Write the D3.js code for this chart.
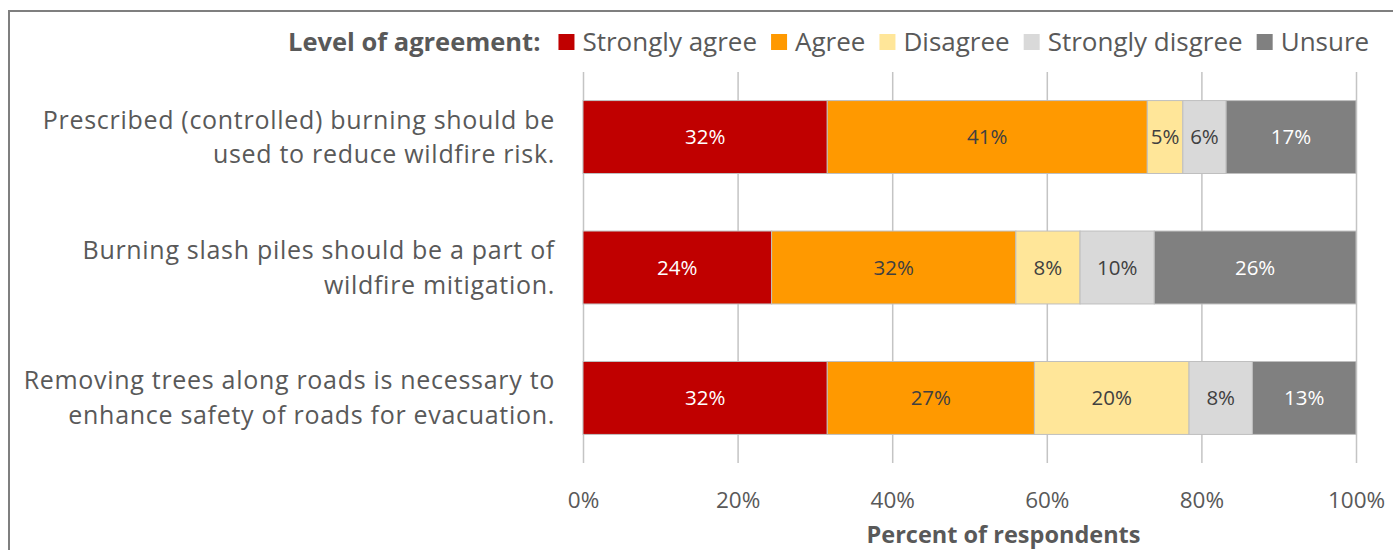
<!DOCTYPE html>
<html>
<head>
<meta charset="utf-8">
<script src="https://cdn.jsdelivr.net/npm/d3@7"></script>
<style>
  body { margin: 0; background: #fff; }
  svg { display: block; }
  text { font-family: "Open Sans", "Noto Sans", sans-serif; }
</style>
</head>
<body>
<svg id="chart" width="1393" height="550"></svg>
<script>
// Survey statements (each split over two lines)
const categories = [
  "Prescribed (controlled) burning should be used to reduce wildfire risk.",
  "Burning slash piles should be a part of wildfire mitigation.",
  "Removing trees along roads is necessary to enhance safety of roads for evacuation."
];
const categoryLines = [
  ["Prescribed (controlled) burning should be", "used to reduce wildfire risk."],
  ["Burning slash piles should be a part of", "wildfire mitigation."],
  ["Removing trees along roads is necessary to", "enhance safety of roads for evacuation."]
];

// Response levels, in stacking order
const seriesNames = ["Strongly agree", "Agree", "Disagree", "Strongly disgree", "Unsure"];

// Percent of respondents per statement
const stronglyAgree    = [31.6, 24.4, 31.6];
const agree            = [41.4, 31.6, 26.8];
const disagree         = [4.6, 8.3, 20.0];
const stronglyDisagree = [5.6, 9.6, 8.2];
const unsure           = [16.8, 26.1, 13.4];

const tickValues = [0, 20, 40, 60, 80, 100];

const seriesColors = ["#C00000", "#FF9900", "#FFE699", "#D9D9D9", "#808080"];
const labelColors  = ["#FFFFFF", "#404040", "#404040", "#404040", "#FFFFFF"];

const seriesValues = [stronglyAgree, agree, disagree, stronglyDisagree, unsure];
const rows = categories.map((c, i) => {
  const r = { category: c };
  seriesNames.forEach((s, k) => { r[s] = seriesValues[k][i]; });
  return r;
});

const svg = d3.select("#chart");
const textColor = "#595959";

// Chart frame
svg.append("rect")
  .attr("x", 9).attr("y", 11)
  .attr("width", 1500).attr("height", 700)
  .attr("fill", "none")
  .attr("stroke", "#7F7F7F")
  .attr("stroke-width", 2);

const plotTop = 72, plotBottom = 463;
const x = d3.scaleLinear().domain([0, 100]).range([583, 1356]);
const y = d3.scaleBand().domain(categories).range([plotTop, plotBottom])
  .paddingInner(0.441).paddingOuter(0.219);

// Gridlines and tick labels
const axis = svg.append("g")
  .attr("transform", `translate(0,${plotBottom})`)
  .call(d3.axisBottom(x)
    .tickValues(tickValues)
    .tickSize(-(plotBottom - plotTop))
    .tickPadding(29)
    .tickFormat(d => d + "%"));
axis.select(".domain").remove();
axis.selectAll(".tick line").attr("stroke", "#C4C4C4").attr("stroke-width", 1.5);
axis.selectAll(".tick text")
  .attr("fill", textColor)
  .style("font-size", "22.5px");

// Stacked bars
const stack = d3.stack().keys(seriesNames)(rows);

const layers = svg.append("g").selectAll("g")
  .data(stack)
  .join("g")
  .attr("fill", (d, i) => seriesColors[i]);

layers.selectAll("rect")
  .data(d => d)
  .join("rect")
  .attr("x", d => x(d[0]))
  .attr("y", d => y(d.data.category))
  .attr("width", d => x(d[1]) - x(d[0]))
  .attr("height", y.bandwidth())
  .attr("stroke", "#BFBFBF")
  .attr("stroke-width", 1);

// Value labels
const fmt = v => Math.round(v) + "%";
stack.forEach((layer, i) => {
  svg.append("g").selectAll("text")
    .data(layer)
    .join("text")
    .attr("x", d => (x(d[0]) + x(d[1])) / 2)
    .attr("y", d => y(d.data.category) + y.bandwidth() / 2)
    .attr("dy", "0.35em")
    .attr("text-anchor", "middle")
    .attr("fill", labelColors[i])
    .style("font-size", "20.5px")
    .text(d => fmt(d[1] - d[0]));
});

// Category labels, two lines each
const catG = svg.append("g");
const lineGap = 34.5;
categories.forEach((c, i) => {
  const cy = y(c) + y.bandwidth() / 2;
  categoryLines[i].forEach((line, j) => {
    catG.append("text")
      .attr("x", 555)
      .attr("y", cy + (j - 0.5) * lineGap)
      .attr("dy", "0.35em")
      .attr("text-anchor", "end")
      .attr("fill", textColor)
      .style("font-size", "25px")
      .style("letter-spacing", "0.7px")
      .text(line);
  });
});

// Axis title
svg.append("text")
  .attr("x", (x(0) + x(100)) / 2 + 34)
  .attr("y", 535)
  .attr("dy", "0.35em")
  .attr("text-anchor", "middle")
  .attr("fill", textColor)
  .style("font-size", "23.5px")
  .style("font-weight", "bold")
  .text("Percent of respondents");

// Legend
const legend = svg.append("g");
const legendY = 42;
const title = legend.append("text")
  .attr("x", 288).attr("y", legendY).attr("dy", "0.35em")
  .attr("fill", textColor)
  .style("font-size", "25.5px")
  .style("font-weight", "bold")
  .text("Level of agreement:");
let lx = 288 + title.node().getComputedTextLength() + 18;
seriesNames.forEach((s, i) => {
  legend.append("rect")
    .attr("x", lx).attr("y", legendY - 8)
    .attr("width", 16).attr("height", 16)
    .attr("fill", seriesColors[i]);
  const t = legend.append("text")
    .attr("x", lx + 24).attr("y", legendY).attr("dy", "0.35em")
    .attr("fill", textColor)
    .style("font-size", "26px")
    .text(s);
  lx += 24 + t.node().getComputedTextLength() + 14;
});
</script>
</body>
</html>
